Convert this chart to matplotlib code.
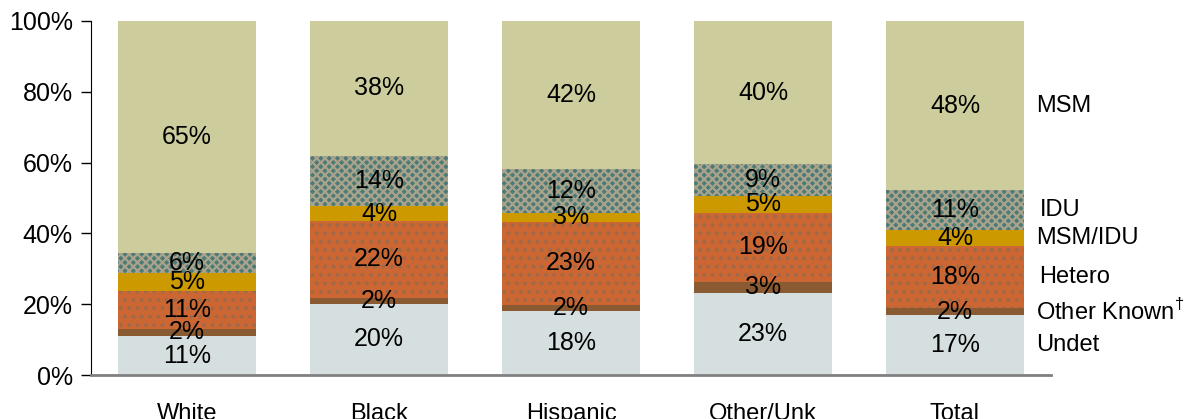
import numpy as np
import matplotlib
matplotlib.use("Agg")
from matplotlib import pyplot as plt

plt.rcParams['font.family'] = ['Liberation Sans', 'DejaVu Sans']
plt.rcParams['mathtext.fontset'] = 'custom'
plt.rcParams['mathtext.rm'] = 'Liberation Sans'
plt.rcParams['hatch.linewidth'] = 1.6

# race / ethnicity groups
groups = ["White", "Black", "Hispanic", "Other/Unk", "Total"]

# transmission category shares (%), stacked bottom to top
categories = ["Undet", "Other Known", "Hetero", "MSM/IDU", "IDU", "MSM"]
undet = [11.0, 20.1, 18.2, 23.3, 16.9]
other_known = [2.1, 1.6, 1.6, 3.1, 1.9]
hetero = [10.6, 21.9, 23.4, 19.4, 17.7]
msm_idu = [5.0, 4.0, 2.6, 4.8, 4.4]
idu = [5.9, 14.4, 12.4, 9.0, 11.3]
msm = [65.4, 38.0, 41.8, 40.4, 47.8]

legend_names = ["Undet", r"Other Known$^{\dagger}$", "Hetero", "MSM/IDU", "IDU", "MSM"]

series = [undet, other_known, hetero, msm_idu, idu, msm]
face = ["#d6dfe0", "#8a5a32", "#cc6633", "#cc9900", "#4c7a77", "#cccc9c"]
hatch_col = ["#d6dfe0", "#8a5a32", "#a06a48", "#cc9900", "#a9a38c", "#cccc9c"]
hatches = [None, None, "..", None, "xxxx", None]
name_dx = [0.42, 0.42, 0.44, 0.42, 0.44, 0.42]

fig = plt.figure(figsize=(12, 4.19), dpi=100)
ax = fig.add_axes([91 / 1200, 44 / 419, 960 / 1200, 354 / 419])

x = np.arange(len(groups))
bottom = np.zeros(len(groups))
for vals, fc, hc, h in zip(series, face, hatch_col, hatches):
    vals = np.array(vals)
    ax.bar(x, vals, width=0.72, bottom=bottom, color=fc, edgecolor=hc,
           hatch=h, linewidth=0)
    for xi, b, v in zip(x, bottom, vals):
        ax.text(xi, b + v / 2, f"{v:.0f}%", ha="center", va="center",
                fontsize=18, color="black")
    bottom += vals

# category names beside the Total bar
tot = len(groups) - 1
base = 0.0
for s, name, dx in zip(series, legend_names, name_dx):
    ax.text(tot + dx, base + s[tot] / 2, name, ha="left", va="center",
            fontsize=17, color="black")
    base += s[tot]

ax.set_xlim(-0.5, 4.5)
ax.set_ylim(0, 100)
ax.set_yticks(np.arange(0, 101, 20))
ax.set_yticklabels([f"{v}%" for v in range(0, 101, 20)], fontsize=18)
ax.set_xticks(x)
ax.set_xticklabels(groups, fontsize=17)
ax.tick_params(axis="x", length=0, pad=20)
ax.tick_params(axis="y", length=7, width=1, direction="out", pad=6)

for side in ["top", "right"]:
    ax.spines[side].set_visible(False)
ax.spines["left"].set_color("black")
ax.spines["bottom"].set_color("#808080")
ax.spines["bottom"].set_linewidth(2)

fig.savefig("out.png", dpi=100)
